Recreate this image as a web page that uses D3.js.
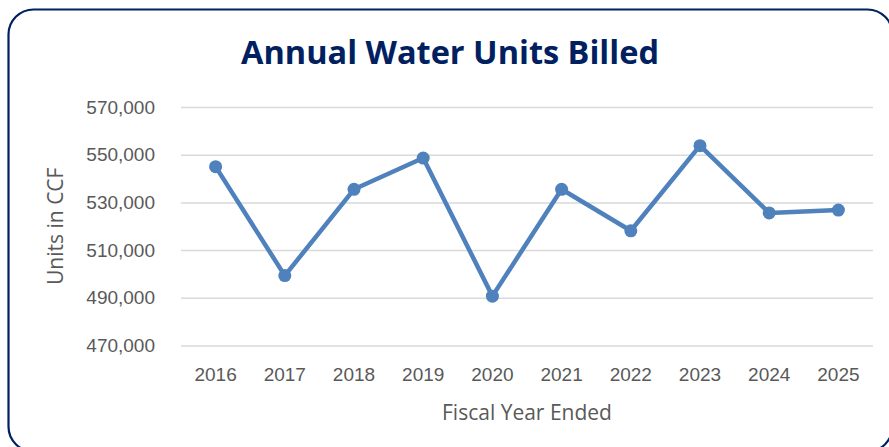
<!DOCTYPE html>
<html>
<head>
<meta charset="utf-8">
<script src="https://cdn.jsdelivr.net/npm/d3@7"></script>
<style>
  html, body { margin: 0; padding: 0; background: #ffffff; }
  svg { display: block; font-family: "Open Sans", sans-serif; }
  .tick text { fill: #595959; font-size: 19px; }
  .axis-label { fill: #595959; font-size: 21px; }
  .chart-title { fill: #002060; font-size: 32.5px; font-weight: bold; }
</style>
</head>
<body>
<svg id="chart"></svg>
<script>
/* Data */
const years = ["2016", "2017", "2018", "2019", "2020", "2021", "2022", "2023", "2024", "2025"];
const unitsBilled = [545000, 499300, 535500, 548600, 490700, 535500, 518100, 553800, 525600, 526800];
const yTicks = [470000, 490000, 510000, 530000, 550000, 570000];

/* Dimensions */
const totalWidth = 889;
const totalHeight = 447;
const margin = { top: 107, right: 16, bottom: 101.5, left: 181 };
const chartWidth = totalWidth - margin.left - margin.right;
const chartHeight = totalHeight - margin.top - margin.bottom;

const svg = d3.select("#chart")
    .attr("width", totalWidth)
    .attr("height", totalHeight);

/* Rounded frame, runs a little past the bottom and right edges */
svg.append("rect")
    .attr("x", 8.5)
    .attr("y", 9.5)
    .attr("width", 884)
    .attr("height", 442)
    .attr("rx", 25)
    .attr("fill", "#ffffff")
    .attr("stroke", "#002060")
    .attr("stroke-width", 2.2);

const g = svg.append("g")
    .attr("transform", `translate(${margin.left}, ${margin.top})`);

/* Scales */
const x = d3.scaleBand()
    .domain(years)
    .range([0, chartWidth]);

const y = d3.scaleLinear()
    .domain([470000, 570000])
    .range([chartHeight, 0]);

/* Y axis with gridlines */
const yAxis = g.append("g")
    .call(d3.axisLeft(y)
        .tickValues(yTicks)
        .tickSize(-chartWidth)
        .tickPadding(26)
        .tickFormat(d3.format(",")));
yAxis.select(".domain").remove();
yAxis.selectAll(".tick line").attr("stroke", "#d9d9d9").attr("stroke-width", 1.5);

/* X axis */
const xAxis = g.append("g")
    .attr("transform", `translate(0, ${chartHeight})`)
    .call(d3.axisBottom(x).tickSize(0).tickPadding(22));
xAxis.select(".domain").remove();

/* Line */
const points = years.map((yr, i) => ({ year: yr, value: unitsBilled[i] }));

const line = d3.line()
    .x(d => x(d.year) + x.bandwidth() / 2)
    .y(d => y(d.value));

g.append("path")
    .datum(points)
    .attr("d", line)
    .attr("fill", "none")
    .attr("stroke", "#4F81BD")
    .attr("stroke-width", 4.5)
    .attr("stroke-linejoin", "round");

g.selectAll(".marker")
    .data(points)
    .join("circle")
      .attr("class", "marker")
      .attr("cx", d => x(d.year) + x.bandwidth() / 2)
      .attr("cy", d => y(d.value))
      .attr("r", 6.5)
      .attr("fill", "#4F81BD");

/* Title */
svg.append("text")
    .attr("class", "chart-title")
    .attr("x", 450)
    .attr("y", 63.5)
    .attr("text-anchor", "middle")
    .text("Annual Water Units Billed");

/* Axis titles */
g.append("text")
    .attr("class", "axis-label")
    .attr("x", chartWidth / 2)
    .attr("y", chartHeight + 74.5)
    .attr("text-anchor", "middle")
    .text("Fiscal Year Ended");

svg.append("text")
    .attr("class", "axis-label")
    .attr("transform", `translate(63, ${margin.top + chartHeight / 2}) rotate(-90)`)
    .attr("text-anchor", "middle")
    .text("Units in CCF");
</script>
</body>
</html>
